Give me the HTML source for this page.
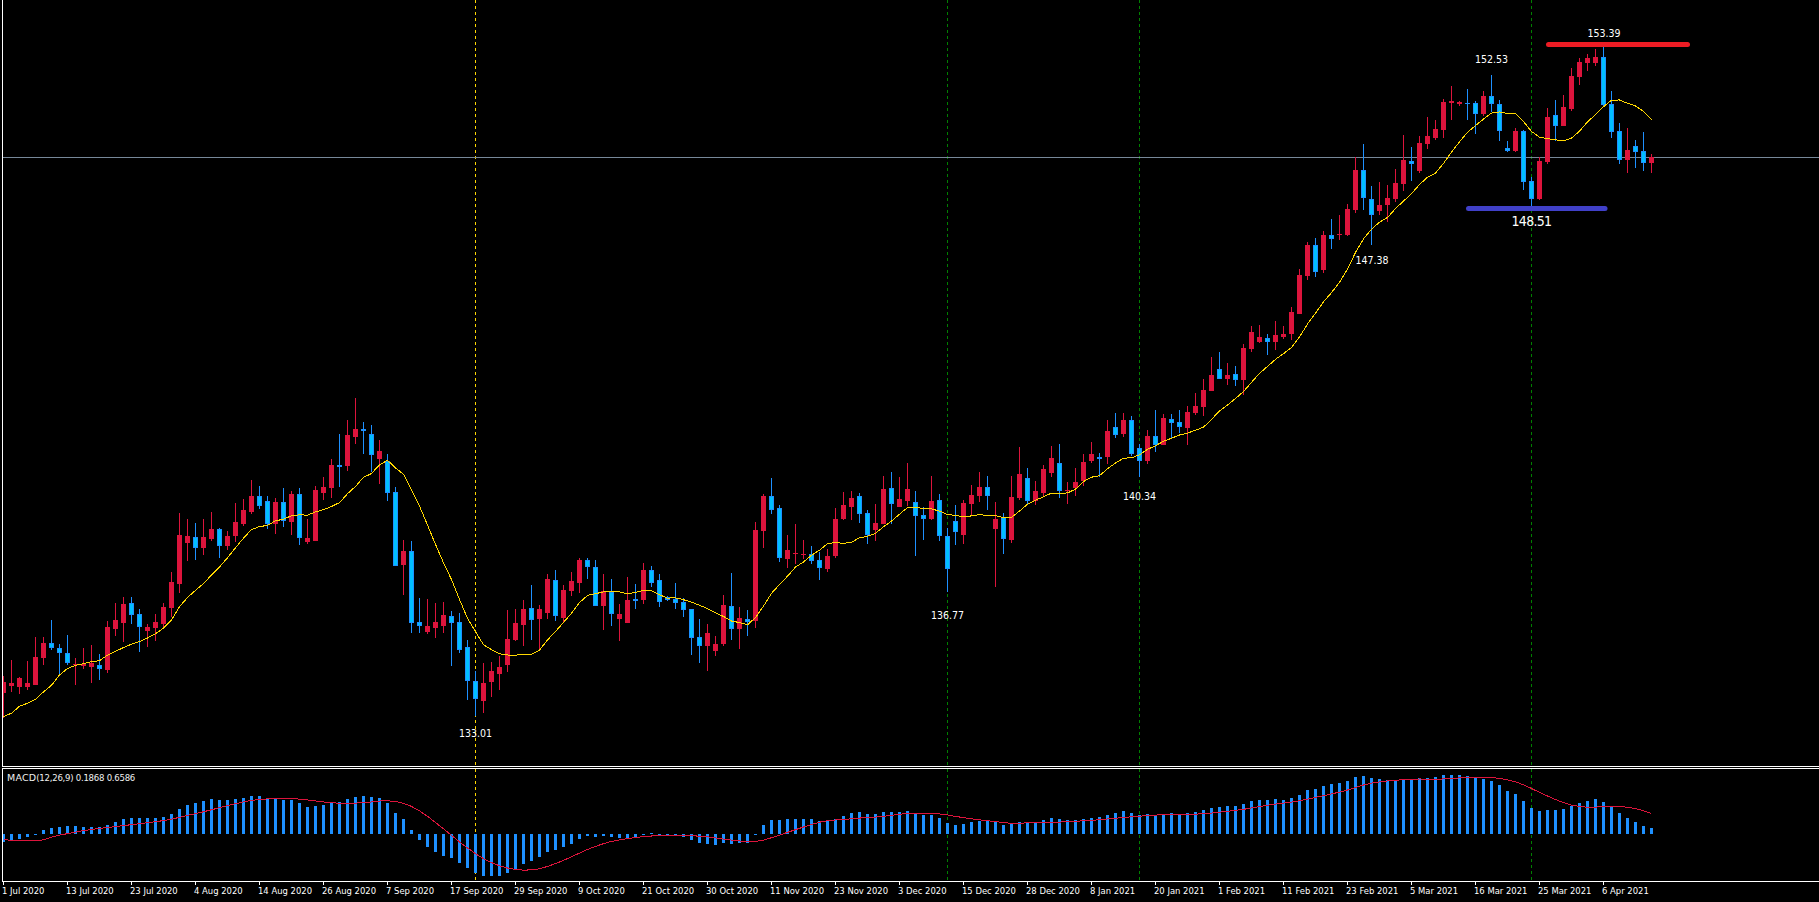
<!DOCTYPE html>
<html><head><meta charset="utf-8"><style>
html,body{margin:0;padding:0;background:#000;width:1819px;height:902px;overflow:hidden}
body{position:relative}
.dt{position:absolute;top:885px;font:9.4px "DejaVu Sans Condensed","DejaVu Sans",sans-serif;color:#fff;white-space:nowrap;line-height:12px}
.pl{position:absolute;width:60px;text-align:center;font:10.5px "DejaVu Sans Condensed","DejaVu Sans",sans-serif;color:#fff;white-space:nowrap;line-height:13px}
.pb{position:absolute;width:80px;text-align:center;font:14px "DejaVu Sans Condensed","DejaVu Sans",sans-serif;color:#fff;white-space:nowrap;line-height:16px;letter-spacing:-0.7px}
.ml{position:absolute;left:7px;top:772px;font:9.5px "DejaVu Sans Condensed","DejaVu Sans",sans-serif;color:#F0F0F0;white-space:nowrap;line-height:12px;letter-spacing:-0.25px}
.mw{font-family:"DejaVu Sans",sans-serif;letter-spacing:0.2px}
</style></head><body>
<svg width="1819" height="902" viewBox="0 0 1819 902" style="position:absolute;left:0;top:0">
<defs><clipPath id="cm"><rect x="3" y="0" width="1816" height="766"/></clipPath><clipPath id="cd"><rect x="3" y="769" width="1816" height="112"/></clipPath></defs>
<g fill="#FFD700"><rect x="475" y="0" width="1" height="3"/><rect x="475" y="6" width="1" height="3"/><rect x="475" y="12" width="1" height="3"/><rect x="475" y="18" width="1" height="3"/><rect x="475" y="24" width="1" height="3"/><rect x="475" y="30" width="1" height="3"/><rect x="475" y="36" width="1" height="3"/><rect x="475" y="42" width="1" height="3"/><rect x="475" y="48" width="1" height="3"/><rect x="475" y="54" width="1" height="3"/><rect x="475" y="60" width="1" height="3"/><rect x="475" y="66" width="1" height="3"/><rect x="475" y="72" width="1" height="3"/><rect x="475" y="78" width="1" height="3"/><rect x="475" y="84" width="1" height="3"/><rect x="475" y="90" width="1" height="3"/><rect x="475" y="96" width="1" height="3"/><rect x="475" y="102" width="1" height="3"/><rect x="475" y="108" width="1" height="3"/><rect x="475" y="114" width="1" height="3"/><rect x="475" y="120" width="1" height="3"/><rect x="475" y="126" width="1" height="3"/><rect x="475" y="132" width="1" height="3"/><rect x="475" y="138" width="1" height="3"/><rect x="475" y="144" width="1" height="3"/><rect x="475" y="150" width="1" height="3"/><rect x="475" y="156" width="1" height="3"/><rect x="475" y="162" width="1" height="3"/><rect x="475" y="168" width="1" height="3"/><rect x="475" y="174" width="1" height="3"/><rect x="475" y="180" width="1" height="3"/><rect x="475" y="186" width="1" height="3"/><rect x="475" y="192" width="1" height="3"/><rect x="475" y="198" width="1" height="3"/><rect x="475" y="204" width="1" height="3"/><rect x="475" y="210" width="1" height="3"/><rect x="475" y="216" width="1" height="3"/><rect x="475" y="222" width="1" height="3"/><rect x="475" y="228" width="1" height="3"/><rect x="475" y="234" width="1" height="3"/><rect x="475" y="240" width="1" height="3"/><rect x="475" y="246" width="1" height="3"/><rect x="475" y="252" width="1" height="3"/><rect x="475" y="258" width="1" height="3"/><rect x="475" y="264" width="1" height="3"/><rect x="475" y="270" width="1" height="3"/><rect x="475" y="276" width="1" height="3"/><rect x="475" y="282" width="1" height="3"/><rect x="475" y="288" width="1" height="3"/><rect x="475" y="294" width="1" height="3"/><rect x="475" y="300" width="1" height="3"/><rect x="475" y="306" width="1" height="3"/><rect x="475" y="312" width="1" height="3"/><rect x="475" y="318" width="1" height="3"/><rect x="475" y="324" width="1" height="3"/><rect x="475" y="330" width="1" height="3"/><rect x="475" y="336" width="1" height="3"/><rect x="475" y="342" width="1" height="3"/><rect x="475" y="348" width="1" height="3"/><rect x="475" y="354" width="1" height="3"/><rect x="475" y="360" width="1" height="3"/><rect x="475" y="366" width="1" height="3"/><rect x="475" y="372" width="1" height="3"/><rect x="475" y="378" width="1" height="3"/><rect x="475" y="384" width="1" height="3"/><rect x="475" y="390" width="1" height="3"/><rect x="475" y="396" width="1" height="3"/><rect x="475" y="402" width="1" height="3"/><rect x="475" y="408" width="1" height="3"/><rect x="475" y="414" width="1" height="3"/><rect x="475" y="420" width="1" height="3"/><rect x="475" y="426" width="1" height="3"/><rect x="475" y="432" width="1" height="3"/><rect x="475" y="438" width="1" height="3"/><rect x="475" y="444" width="1" height="3"/><rect x="475" y="450" width="1" height="3"/><rect x="475" y="456" width="1" height="3"/><rect x="475" y="462" width="1" height="3"/><rect x="475" y="468" width="1" height="3"/><rect x="475" y="474" width="1" height="3"/><rect x="475" y="480" width="1" height="3"/><rect x="475" y="486" width="1" height="3"/><rect x="475" y="492" width="1" height="3"/><rect x="475" y="498" width="1" height="3"/><rect x="475" y="504" width="1" height="3"/><rect x="475" y="510" width="1" height="3"/><rect x="475" y="516" width="1" height="3"/><rect x="475" y="522" width="1" height="3"/><rect x="475" y="528" width="1" height="3"/><rect x="475" y="534" width="1" height="3"/><rect x="475" y="540" width="1" height="3"/><rect x="475" y="546" width="1" height="3"/><rect x="475" y="552" width="1" height="3"/><rect x="475" y="558" width="1" height="3"/><rect x="475" y="564" width="1" height="3"/><rect x="475" y="570" width="1" height="3"/><rect x="475" y="576" width="1" height="3"/><rect x="475" y="582" width="1" height="3"/><rect x="475" y="588" width="1" height="3"/><rect x="475" y="594" width="1" height="3"/><rect x="475" y="600" width="1" height="3"/><rect x="475" y="606" width="1" height="3"/><rect x="475" y="612" width="1" height="3"/><rect x="475" y="618" width="1" height="3"/><rect x="475" y="624" width="1" height="3"/><rect x="475" y="630" width="1" height="3"/><rect x="475" y="636" width="1" height="3"/><rect x="475" y="642" width="1" height="3"/><rect x="475" y="648" width="1" height="3"/><rect x="475" y="654" width="1" height="3"/><rect x="475" y="660" width="1" height="3"/><rect x="475" y="666" width="1" height="3"/><rect x="475" y="672" width="1" height="3"/><rect x="475" y="678" width="1" height="3"/><rect x="475" y="684" width="1" height="3"/><rect x="475" y="690" width="1" height="3"/><rect x="475" y="696" width="1" height="3"/><rect x="475" y="702" width="1" height="3"/><rect x="475" y="708" width="1" height="3"/><rect x="475" y="714" width="1" height="3"/><rect x="475" y="720" width="1" height="3"/><rect x="475" y="726" width="1" height="3"/><rect x="475" y="732" width="1" height="3"/><rect x="475" y="738" width="1" height="3"/><rect x="475" y="744" width="1" height="3"/><rect x="475" y="750" width="1" height="3"/><rect x="475" y="756" width="1" height="3"/><rect x="475" y="762" width="1" height="3"/></g>
<g fill="#FFD700"><rect x="475" y="769" width="1" height="3"/><rect x="475" y="775" width="1" height="3"/><rect x="475" y="781" width="1" height="3"/><rect x="475" y="787" width="1" height="3"/><rect x="475" y="793" width="1" height="3"/><rect x="475" y="799" width="1" height="3"/><rect x="475" y="805" width="1" height="3"/><rect x="475" y="811" width="1" height="3"/><rect x="475" y="817" width="1" height="3"/><rect x="475" y="823" width="1" height="3"/><rect x="475" y="829" width="1" height="3"/><rect x="475" y="835" width="1" height="3"/><rect x="475" y="841" width="1" height="3"/><rect x="475" y="847" width="1" height="3"/><rect x="475" y="853" width="1" height="3"/><rect x="475" y="859" width="1" height="3"/><rect x="475" y="865" width="1" height="3"/><rect x="475" y="871" width="1" height="3"/><rect x="475" y="877" width="1" height="3"/></g>
<g fill="#008000"><rect x="947" y="0" width="1" height="3"/><rect x="947" y="6" width="1" height="3"/><rect x="947" y="12" width="1" height="3"/><rect x="947" y="18" width="1" height="3"/><rect x="947" y="24" width="1" height="3"/><rect x="947" y="30" width="1" height="3"/><rect x="947" y="36" width="1" height="3"/><rect x="947" y="42" width="1" height="3"/><rect x="947" y="48" width="1" height="3"/><rect x="947" y="54" width="1" height="3"/><rect x="947" y="60" width="1" height="3"/><rect x="947" y="66" width="1" height="3"/><rect x="947" y="72" width="1" height="3"/><rect x="947" y="78" width="1" height="3"/><rect x="947" y="84" width="1" height="3"/><rect x="947" y="90" width="1" height="3"/><rect x="947" y="96" width="1" height="3"/><rect x="947" y="102" width="1" height="3"/><rect x="947" y="108" width="1" height="3"/><rect x="947" y="114" width="1" height="3"/><rect x="947" y="120" width="1" height="3"/><rect x="947" y="126" width="1" height="3"/><rect x="947" y="132" width="1" height="3"/><rect x="947" y="138" width="1" height="3"/><rect x="947" y="144" width="1" height="3"/><rect x="947" y="150" width="1" height="3"/><rect x="947" y="156" width="1" height="3"/><rect x="947" y="162" width="1" height="3"/><rect x="947" y="168" width="1" height="3"/><rect x="947" y="174" width="1" height="3"/><rect x="947" y="180" width="1" height="3"/><rect x="947" y="186" width="1" height="3"/><rect x="947" y="192" width="1" height="3"/><rect x="947" y="198" width="1" height="3"/><rect x="947" y="204" width="1" height="3"/><rect x="947" y="210" width="1" height="3"/><rect x="947" y="216" width="1" height="3"/><rect x="947" y="222" width="1" height="3"/><rect x="947" y="228" width="1" height="3"/><rect x="947" y="234" width="1" height="3"/><rect x="947" y="240" width="1" height="3"/><rect x="947" y="246" width="1" height="3"/><rect x="947" y="252" width="1" height="3"/><rect x="947" y="258" width="1" height="3"/><rect x="947" y="264" width="1" height="3"/><rect x="947" y="270" width="1" height="3"/><rect x="947" y="276" width="1" height="3"/><rect x="947" y="282" width="1" height="3"/><rect x="947" y="288" width="1" height="3"/><rect x="947" y="294" width="1" height="3"/><rect x="947" y="300" width="1" height="3"/><rect x="947" y="306" width="1" height="3"/><rect x="947" y="312" width="1" height="3"/><rect x="947" y="318" width="1" height="3"/><rect x="947" y="324" width="1" height="3"/><rect x="947" y="330" width="1" height="3"/><rect x="947" y="336" width="1" height="3"/><rect x="947" y="342" width="1" height="3"/><rect x="947" y="348" width="1" height="3"/><rect x="947" y="354" width="1" height="3"/><rect x="947" y="360" width="1" height="3"/><rect x="947" y="366" width="1" height="3"/><rect x="947" y="372" width="1" height="3"/><rect x="947" y="378" width="1" height="3"/><rect x="947" y="384" width="1" height="3"/><rect x="947" y="390" width="1" height="3"/><rect x="947" y="396" width="1" height="3"/><rect x="947" y="402" width="1" height="3"/><rect x="947" y="408" width="1" height="3"/><rect x="947" y="414" width="1" height="3"/><rect x="947" y="420" width="1" height="3"/><rect x="947" y="426" width="1" height="3"/><rect x="947" y="432" width="1" height="3"/><rect x="947" y="438" width="1" height="3"/><rect x="947" y="444" width="1" height="3"/><rect x="947" y="450" width="1" height="3"/><rect x="947" y="456" width="1" height="3"/><rect x="947" y="462" width="1" height="3"/><rect x="947" y="468" width="1" height="3"/><rect x="947" y="474" width="1" height="3"/><rect x="947" y="480" width="1" height="3"/><rect x="947" y="486" width="1" height="3"/><rect x="947" y="492" width="1" height="3"/><rect x="947" y="498" width="1" height="3"/><rect x="947" y="504" width="1" height="3"/><rect x="947" y="510" width="1" height="3"/><rect x="947" y="516" width="1" height="3"/><rect x="947" y="522" width="1" height="3"/><rect x="947" y="528" width="1" height="3"/><rect x="947" y="534" width="1" height="3"/><rect x="947" y="540" width="1" height="3"/><rect x="947" y="546" width="1" height="3"/><rect x="947" y="552" width="1" height="3"/><rect x="947" y="558" width="1" height="3"/><rect x="947" y="564" width="1" height="3"/><rect x="947" y="570" width="1" height="3"/><rect x="947" y="576" width="1" height="3"/><rect x="947" y="582" width="1" height="3"/><rect x="947" y="588" width="1" height="3"/><rect x="947" y="594" width="1" height="3"/><rect x="947" y="600" width="1" height="3"/><rect x="947" y="606" width="1" height="3"/><rect x="947" y="612" width="1" height="3"/><rect x="947" y="618" width="1" height="3"/><rect x="947" y="624" width="1" height="3"/><rect x="947" y="630" width="1" height="3"/><rect x="947" y="636" width="1" height="3"/><rect x="947" y="642" width="1" height="3"/><rect x="947" y="648" width="1" height="3"/><rect x="947" y="654" width="1" height="3"/><rect x="947" y="660" width="1" height="3"/><rect x="947" y="666" width="1" height="3"/><rect x="947" y="672" width="1" height="3"/><rect x="947" y="678" width="1" height="3"/><rect x="947" y="684" width="1" height="3"/><rect x="947" y="690" width="1" height="3"/><rect x="947" y="696" width="1" height="3"/><rect x="947" y="702" width="1" height="3"/><rect x="947" y="708" width="1" height="3"/><rect x="947" y="714" width="1" height="3"/><rect x="947" y="720" width="1" height="3"/><rect x="947" y="726" width="1" height="3"/><rect x="947" y="732" width="1" height="3"/><rect x="947" y="738" width="1" height="3"/><rect x="947" y="744" width="1" height="3"/><rect x="947" y="750" width="1" height="3"/><rect x="947" y="756" width="1" height="3"/><rect x="947" y="762" width="1" height="3"/></g>
<g fill="#008000"><rect x="947" y="769" width="1" height="3"/><rect x="947" y="775" width="1" height="3"/><rect x="947" y="781" width="1" height="3"/><rect x="947" y="787" width="1" height="3"/><rect x="947" y="793" width="1" height="3"/><rect x="947" y="799" width="1" height="3"/><rect x="947" y="805" width="1" height="3"/><rect x="947" y="811" width="1" height="3"/><rect x="947" y="817" width="1" height="3"/><rect x="947" y="823" width="1" height="3"/><rect x="947" y="829" width="1" height="3"/><rect x="947" y="835" width="1" height="3"/><rect x="947" y="841" width="1" height="3"/><rect x="947" y="847" width="1" height="3"/><rect x="947" y="853" width="1" height="3"/><rect x="947" y="859" width="1" height="3"/><rect x="947" y="865" width="1" height="3"/><rect x="947" y="871" width="1" height="3"/><rect x="947" y="877" width="1" height="3"/></g>
<g fill="#008000"><rect x="1139" y="0" width="1" height="3"/><rect x="1139" y="6" width="1" height="3"/><rect x="1139" y="12" width="1" height="3"/><rect x="1139" y="18" width="1" height="3"/><rect x="1139" y="24" width="1" height="3"/><rect x="1139" y="30" width="1" height="3"/><rect x="1139" y="36" width="1" height="3"/><rect x="1139" y="42" width="1" height="3"/><rect x="1139" y="48" width="1" height="3"/><rect x="1139" y="54" width="1" height="3"/><rect x="1139" y="60" width="1" height="3"/><rect x="1139" y="66" width="1" height="3"/><rect x="1139" y="72" width="1" height="3"/><rect x="1139" y="78" width="1" height="3"/><rect x="1139" y="84" width="1" height="3"/><rect x="1139" y="90" width="1" height="3"/><rect x="1139" y="96" width="1" height="3"/><rect x="1139" y="102" width="1" height="3"/><rect x="1139" y="108" width="1" height="3"/><rect x="1139" y="114" width="1" height="3"/><rect x="1139" y="120" width="1" height="3"/><rect x="1139" y="126" width="1" height="3"/><rect x="1139" y="132" width="1" height="3"/><rect x="1139" y="138" width="1" height="3"/><rect x="1139" y="144" width="1" height="3"/><rect x="1139" y="150" width="1" height="3"/><rect x="1139" y="156" width="1" height="3"/><rect x="1139" y="162" width="1" height="3"/><rect x="1139" y="168" width="1" height="3"/><rect x="1139" y="174" width="1" height="3"/><rect x="1139" y="180" width="1" height="3"/><rect x="1139" y="186" width="1" height="3"/><rect x="1139" y="192" width="1" height="3"/><rect x="1139" y="198" width="1" height="3"/><rect x="1139" y="204" width="1" height="3"/><rect x="1139" y="210" width="1" height="3"/><rect x="1139" y="216" width="1" height="3"/><rect x="1139" y="222" width="1" height="3"/><rect x="1139" y="228" width="1" height="3"/><rect x="1139" y="234" width="1" height="3"/><rect x="1139" y="240" width="1" height="3"/><rect x="1139" y="246" width="1" height="3"/><rect x="1139" y="252" width="1" height="3"/><rect x="1139" y="258" width="1" height="3"/><rect x="1139" y="264" width="1" height="3"/><rect x="1139" y="270" width="1" height="3"/><rect x="1139" y="276" width="1" height="3"/><rect x="1139" y="282" width="1" height="3"/><rect x="1139" y="288" width="1" height="3"/><rect x="1139" y="294" width="1" height="3"/><rect x="1139" y="300" width="1" height="3"/><rect x="1139" y="306" width="1" height="3"/><rect x="1139" y="312" width="1" height="3"/><rect x="1139" y="318" width="1" height="3"/><rect x="1139" y="324" width="1" height="3"/><rect x="1139" y="330" width="1" height="3"/><rect x="1139" y="336" width="1" height="3"/><rect x="1139" y="342" width="1" height="3"/><rect x="1139" y="348" width="1" height="3"/><rect x="1139" y="354" width="1" height="3"/><rect x="1139" y="360" width="1" height="3"/><rect x="1139" y="366" width="1" height="3"/><rect x="1139" y="372" width="1" height="3"/><rect x="1139" y="378" width="1" height="3"/><rect x="1139" y="384" width="1" height="3"/><rect x="1139" y="390" width="1" height="3"/><rect x="1139" y="396" width="1" height="3"/><rect x="1139" y="402" width="1" height="3"/><rect x="1139" y="408" width="1" height="3"/><rect x="1139" y="414" width="1" height="3"/><rect x="1139" y="420" width="1" height="3"/><rect x="1139" y="426" width="1" height="3"/><rect x="1139" y="432" width="1" height="3"/><rect x="1139" y="438" width="1" height="3"/><rect x="1139" y="444" width="1" height="3"/><rect x="1139" y="450" width="1" height="3"/><rect x="1139" y="456" width="1" height="3"/><rect x="1139" y="462" width="1" height="3"/><rect x="1139" y="468" width="1" height="3"/><rect x="1139" y="474" width="1" height="3"/><rect x="1139" y="480" width="1" height="3"/><rect x="1139" y="486" width="1" height="3"/><rect x="1139" y="492" width="1" height="3"/><rect x="1139" y="498" width="1" height="3"/><rect x="1139" y="504" width="1" height="3"/><rect x="1139" y="510" width="1" height="3"/><rect x="1139" y="516" width="1" height="3"/><rect x="1139" y="522" width="1" height="3"/><rect x="1139" y="528" width="1" height="3"/><rect x="1139" y="534" width="1" height="3"/><rect x="1139" y="540" width="1" height="3"/><rect x="1139" y="546" width="1" height="3"/><rect x="1139" y="552" width="1" height="3"/><rect x="1139" y="558" width="1" height="3"/><rect x="1139" y="564" width="1" height="3"/><rect x="1139" y="570" width="1" height="3"/><rect x="1139" y="576" width="1" height="3"/><rect x="1139" y="582" width="1" height="3"/><rect x="1139" y="588" width="1" height="3"/><rect x="1139" y="594" width="1" height="3"/><rect x="1139" y="600" width="1" height="3"/><rect x="1139" y="606" width="1" height="3"/><rect x="1139" y="612" width="1" height="3"/><rect x="1139" y="618" width="1" height="3"/><rect x="1139" y="624" width="1" height="3"/><rect x="1139" y="630" width="1" height="3"/><rect x="1139" y="636" width="1" height="3"/><rect x="1139" y="642" width="1" height="3"/><rect x="1139" y="648" width="1" height="3"/><rect x="1139" y="654" width="1" height="3"/><rect x="1139" y="660" width="1" height="3"/><rect x="1139" y="666" width="1" height="3"/><rect x="1139" y="672" width="1" height="3"/><rect x="1139" y="678" width="1" height="3"/><rect x="1139" y="684" width="1" height="3"/><rect x="1139" y="690" width="1" height="3"/><rect x="1139" y="696" width="1" height="3"/><rect x="1139" y="702" width="1" height="3"/><rect x="1139" y="708" width="1" height="3"/><rect x="1139" y="714" width="1" height="3"/><rect x="1139" y="720" width="1" height="3"/><rect x="1139" y="726" width="1" height="3"/><rect x="1139" y="732" width="1" height="3"/><rect x="1139" y="738" width="1" height="3"/><rect x="1139" y="744" width="1" height="3"/><rect x="1139" y="750" width="1" height="3"/><rect x="1139" y="756" width="1" height="3"/><rect x="1139" y="762" width="1" height="3"/></g>
<g fill="#008000"><rect x="1139" y="769" width="1" height="3"/><rect x="1139" y="775" width="1" height="3"/><rect x="1139" y="781" width="1" height="3"/><rect x="1139" y="787" width="1" height="3"/><rect x="1139" y="793" width="1" height="3"/><rect x="1139" y="799" width="1" height="3"/><rect x="1139" y="805" width="1" height="3"/><rect x="1139" y="811" width="1" height="3"/><rect x="1139" y="817" width="1" height="3"/><rect x="1139" y="823" width="1" height="3"/><rect x="1139" y="829" width="1" height="3"/><rect x="1139" y="835" width="1" height="3"/><rect x="1139" y="841" width="1" height="3"/><rect x="1139" y="847" width="1" height="3"/><rect x="1139" y="853" width="1" height="3"/><rect x="1139" y="859" width="1" height="3"/><rect x="1139" y="865" width="1" height="3"/><rect x="1139" y="871" width="1" height="3"/><rect x="1139" y="877" width="1" height="3"/></g>
<g fill="#008000"><rect x="1531" y="0" width="1" height="3"/><rect x="1531" y="6" width="1" height="3"/><rect x="1531" y="12" width="1" height="3"/><rect x="1531" y="18" width="1" height="3"/><rect x="1531" y="24" width="1" height="3"/><rect x="1531" y="30" width="1" height="3"/><rect x="1531" y="36" width="1" height="3"/><rect x="1531" y="42" width="1" height="3"/><rect x="1531" y="48" width="1" height="3"/><rect x="1531" y="54" width="1" height="3"/><rect x="1531" y="60" width="1" height="3"/><rect x="1531" y="66" width="1" height="3"/><rect x="1531" y="72" width="1" height="3"/><rect x="1531" y="78" width="1" height="3"/><rect x="1531" y="84" width="1" height="3"/><rect x="1531" y="90" width="1" height="3"/><rect x="1531" y="96" width="1" height="3"/><rect x="1531" y="102" width="1" height="3"/><rect x="1531" y="108" width="1" height="3"/><rect x="1531" y="114" width="1" height="3"/><rect x="1531" y="120" width="1" height="3"/><rect x="1531" y="126" width="1" height="3"/><rect x="1531" y="132" width="1" height="3"/><rect x="1531" y="138" width="1" height="3"/><rect x="1531" y="144" width="1" height="3"/><rect x="1531" y="150" width="1" height="3"/><rect x="1531" y="156" width="1" height="3"/><rect x="1531" y="162" width="1" height="3"/><rect x="1531" y="168" width="1" height="3"/><rect x="1531" y="174" width="1" height="3"/><rect x="1531" y="180" width="1" height="3"/><rect x="1531" y="186" width="1" height="3"/><rect x="1531" y="192" width="1" height="3"/><rect x="1531" y="198" width="1" height="3"/><rect x="1531" y="204" width="1" height="3"/><rect x="1531" y="210" width="1" height="3"/><rect x="1531" y="216" width="1" height="3"/><rect x="1531" y="222" width="1" height="3"/><rect x="1531" y="228" width="1" height="3"/><rect x="1531" y="234" width="1" height="3"/><rect x="1531" y="240" width="1" height="3"/><rect x="1531" y="246" width="1" height="3"/><rect x="1531" y="252" width="1" height="3"/><rect x="1531" y="258" width="1" height="3"/><rect x="1531" y="264" width="1" height="3"/><rect x="1531" y="270" width="1" height="3"/><rect x="1531" y="276" width="1" height="3"/><rect x="1531" y="282" width="1" height="3"/><rect x="1531" y="288" width="1" height="3"/><rect x="1531" y="294" width="1" height="3"/><rect x="1531" y="300" width="1" height="3"/><rect x="1531" y="306" width="1" height="3"/><rect x="1531" y="312" width="1" height="3"/><rect x="1531" y="318" width="1" height="3"/><rect x="1531" y="324" width="1" height="3"/><rect x="1531" y="330" width="1" height="3"/><rect x="1531" y="336" width="1" height="3"/><rect x="1531" y="342" width="1" height="3"/><rect x="1531" y="348" width="1" height="3"/><rect x="1531" y="354" width="1" height="3"/><rect x="1531" y="360" width="1" height="3"/><rect x="1531" y="366" width="1" height="3"/><rect x="1531" y="372" width="1" height="3"/><rect x="1531" y="378" width="1" height="3"/><rect x="1531" y="384" width="1" height="3"/><rect x="1531" y="390" width="1" height="3"/><rect x="1531" y="396" width="1" height="3"/><rect x="1531" y="402" width="1" height="3"/><rect x="1531" y="408" width="1" height="3"/><rect x="1531" y="414" width="1" height="3"/><rect x="1531" y="420" width="1" height="3"/><rect x="1531" y="426" width="1" height="3"/><rect x="1531" y="432" width="1" height="3"/><rect x="1531" y="438" width="1" height="3"/><rect x="1531" y="444" width="1" height="3"/><rect x="1531" y="450" width="1" height="3"/><rect x="1531" y="456" width="1" height="3"/><rect x="1531" y="462" width="1" height="3"/><rect x="1531" y="468" width="1" height="3"/><rect x="1531" y="474" width="1" height="3"/><rect x="1531" y="480" width="1" height="3"/><rect x="1531" y="486" width="1" height="3"/><rect x="1531" y="492" width="1" height="3"/><rect x="1531" y="498" width="1" height="3"/><rect x="1531" y="504" width="1" height="3"/><rect x="1531" y="510" width="1" height="3"/><rect x="1531" y="516" width="1" height="3"/><rect x="1531" y="522" width="1" height="3"/><rect x="1531" y="528" width="1" height="3"/><rect x="1531" y="534" width="1" height="3"/><rect x="1531" y="540" width="1" height="3"/><rect x="1531" y="546" width="1" height="3"/><rect x="1531" y="552" width="1" height="3"/><rect x="1531" y="558" width="1" height="3"/><rect x="1531" y="564" width="1" height="3"/><rect x="1531" y="570" width="1" height="3"/><rect x="1531" y="576" width="1" height="3"/><rect x="1531" y="582" width="1" height="3"/><rect x="1531" y="588" width="1" height="3"/><rect x="1531" y="594" width="1" height="3"/><rect x="1531" y="600" width="1" height="3"/><rect x="1531" y="606" width="1" height="3"/><rect x="1531" y="612" width="1" height="3"/><rect x="1531" y="618" width="1" height="3"/><rect x="1531" y="624" width="1" height="3"/><rect x="1531" y="630" width="1" height="3"/><rect x="1531" y="636" width="1" height="3"/><rect x="1531" y="642" width="1" height="3"/><rect x="1531" y="648" width="1" height="3"/><rect x="1531" y="654" width="1" height="3"/><rect x="1531" y="660" width="1" height="3"/><rect x="1531" y="666" width="1" height="3"/><rect x="1531" y="672" width="1" height="3"/><rect x="1531" y="678" width="1" height="3"/><rect x="1531" y="684" width="1" height="3"/><rect x="1531" y="690" width="1" height="3"/><rect x="1531" y="696" width="1" height="3"/><rect x="1531" y="702" width="1" height="3"/><rect x="1531" y="708" width="1" height="3"/><rect x="1531" y="714" width="1" height="3"/><rect x="1531" y="720" width="1" height="3"/><rect x="1531" y="726" width="1" height="3"/><rect x="1531" y="732" width="1" height="3"/><rect x="1531" y="738" width="1" height="3"/><rect x="1531" y="744" width="1" height="3"/><rect x="1531" y="750" width="1" height="3"/><rect x="1531" y="756" width="1" height="3"/><rect x="1531" y="762" width="1" height="3"/></g>
<g fill="#008000"><rect x="1531" y="769" width="1" height="3"/><rect x="1531" y="775" width="1" height="3"/><rect x="1531" y="781" width="1" height="3"/><rect x="1531" y="787" width="1" height="3"/><rect x="1531" y="793" width="1" height="3"/><rect x="1531" y="799" width="1" height="3"/><rect x="1531" y="805" width="1" height="3"/><rect x="1531" y="811" width="1" height="3"/><rect x="1531" y="817" width="1" height="3"/><rect x="1531" y="823" width="1" height="3"/><rect x="1531" y="829" width="1" height="3"/><rect x="1531" y="835" width="1" height="3"/><rect x="1531" y="841" width="1" height="3"/><rect x="1531" y="847" width="1" height="3"/><rect x="1531" y="853" width="1" height="3"/><rect x="1531" y="859" width="1" height="3"/><rect x="1531" y="865" width="1" height="3"/><rect x="1531" y="871" width="1" height="3"/><rect x="1531" y="877" width="1" height="3"/></g>
<rect x="3" y="157" width="1816" height="1" fill="#778899"/>
<g clip-path="url(#cm)" shape-rendering="crispEdges">
<rect x="3" y="676" width="1" height="42" fill="#DC143C"/>
<rect x="1" y="682" width="5" height="11" fill="#DC143C"/>
<rect x="11" y="660" width="1" height="32" fill="#DC143C"/>
<rect x="9" y="683" width="5" height="3" fill="#DC143C"/>
<rect x="19" y="677" width="1" height="17" fill="#DC143C"/>
<rect x="17" y="678" width="5" height="9" fill="#DC143C"/>
<rect x="27" y="661" width="1" height="29" fill="#DC143C"/>
<rect x="25" y="683" width="5" height="4" fill="#DC143C"/>
<rect x="35" y="637" width="1" height="48" fill="#DC143C"/>
<rect x="33" y="657" width="5" height="28" fill="#DC143C"/>
<rect x="43" y="637" width="1" height="28" fill="#DC143C"/>
<rect x="41" y="643" width="5" height="15" fill="#DC143C"/>
<rect x="51" y="620" width="1" height="30" fill="#1E90FF"/>
<rect x="49" y="643" width="5" height="5" fill="#1E90FF"/>
<rect x="50" y="644" width="3" height="3" fill="#00BFFF"/>
<rect x="59" y="644" width="1" height="31" fill="#1E90FF"/>
<rect x="57" y="648" width="5" height="5" fill="#1E90FF"/>
<rect x="58" y="649" width="3" height="3" fill="#00BFFF"/>
<rect x="67" y="635" width="1" height="30" fill="#1E90FF"/>
<rect x="65" y="653" width="5" height="10" fill="#1E90FF"/>
<rect x="66" y="654" width="3" height="8" fill="#00BFFF"/>
<rect x="75" y="658" width="1" height="27" fill="#DC143C"/>
<rect x="73" y="664" width="5" height="1" fill="#DC143C"/>
<rect x="83" y="648" width="1" height="21" fill="#DC143C"/>
<rect x="81" y="664" width="5" height="2" fill="#DC143C"/>
<rect x="91" y="645" width="1" height="38" fill="#DC143C"/>
<rect x="89" y="663" width="5" height="4" fill="#DC143C"/>
<rect x="99" y="654" width="1" height="26" fill="#1E90FF"/>
<rect x="97" y="665" width="5" height="4" fill="#1E90FF"/>
<rect x="98" y="666" width="3" height="2" fill="#00BFFF"/>
<rect x="107" y="621" width="1" height="52" fill="#DC143C"/>
<rect x="105" y="627" width="5" height="43" fill="#DC143C"/>
<rect x="115" y="603" width="1" height="33" fill="#DC143C"/>
<rect x="113" y="620" width="5" height="9" fill="#DC143C"/>
<rect x="123" y="597" width="1" height="45" fill="#DC143C"/>
<rect x="121" y="604" width="5" height="19" fill="#DC143C"/>
<rect x="131" y="597" width="1" height="27" fill="#1E90FF"/>
<rect x="129" y="603" width="5" height="12" fill="#1E90FF"/>
<rect x="130" y="604" width="3" height="10" fill="#00BFFF"/>
<rect x="139" y="609" width="1" height="43" fill="#1E90FF"/>
<rect x="137" y="614" width="5" height="13" fill="#1E90FF"/>
<rect x="138" y="615" width="3" height="11" fill="#00BFFF"/>
<rect x="147" y="624" width="1" height="23" fill="#DC143C"/>
<rect x="145" y="627" width="5" height="4" fill="#DC143C"/>
<rect x="155" y="614" width="1" height="27" fill="#DC143C"/>
<rect x="153" y="622" width="5" height="6" fill="#DC143C"/>
<rect x="163" y="603" width="1" height="25" fill="#DC143C"/>
<rect x="161" y="607" width="5" height="17" fill="#DC143C"/>
<rect x="171" y="572" width="1" height="45" fill="#DC143C"/>
<rect x="169" y="582" width="5" height="26" fill="#DC143C"/>
<rect x="179" y="513" width="1" height="80" fill="#DC143C"/>
<rect x="177" y="535" width="5" height="49" fill="#DC143C"/>
<rect x="187" y="519" width="1" height="42" fill="#DC143C"/>
<rect x="185" y="536" width="5" height="7" fill="#DC143C"/>
<rect x="195" y="523" width="1" height="37" fill="#1E90FF"/>
<rect x="193" y="537" width="5" height="11" fill="#1E90FF"/>
<rect x="194" y="538" width="3" height="9" fill="#00BFFF"/>
<rect x="203" y="519" width="1" height="36" fill="#DC143C"/>
<rect x="201" y="537" width="5" height="11" fill="#DC143C"/>
<rect x="211" y="512" width="1" height="29" fill="#DC143C"/>
<rect x="209" y="529" width="5" height="10" fill="#DC143C"/>
<rect x="219" y="528" width="1" height="30" fill="#1E90FF"/>
<rect x="217" y="529" width="5" height="17" fill="#1E90FF"/>
<rect x="218" y="530" width="3" height="15" fill="#00BFFF"/>
<rect x="227" y="531" width="1" height="19" fill="#DC143C"/>
<rect x="225" y="536" width="5" height="10" fill="#DC143C"/>
<rect x="235" y="503" width="1" height="39" fill="#DC143C"/>
<rect x="233" y="522" width="5" height="14" fill="#DC143C"/>
<rect x="243" y="499" width="1" height="27" fill="#DC143C"/>
<rect x="241" y="510" width="5" height="14" fill="#DC143C"/>
<rect x="251" y="480" width="1" height="34" fill="#DC143C"/>
<rect x="249" y="496" width="5" height="16" fill="#DC143C"/>
<rect x="259" y="486" width="1" height="23" fill="#1E90FF"/>
<rect x="257" y="496" width="5" height="10" fill="#1E90FF"/>
<rect x="258" y="497" width="3" height="8" fill="#00BFFF"/>
<rect x="267" y="496" width="1" height="33" fill="#1E90FF"/>
<rect x="265" y="501" width="5" height="23" fill="#1E90FF"/>
<rect x="266" y="502" width="3" height="21" fill="#00BFFF"/>
<rect x="275" y="498" width="1" height="36" fill="#DC143C"/>
<rect x="273" y="502" width="5" height="22" fill="#DC143C"/>
<rect x="283" y="488" width="1" height="39" fill="#1E90FF"/>
<rect x="281" y="502" width="5" height="19" fill="#1E90FF"/>
<rect x="282" y="503" width="3" height="17" fill="#00BFFF"/>
<rect x="291" y="491" width="1" height="44" fill="#DC143C"/>
<rect x="289" y="494" width="5" height="28" fill="#DC143C"/>
<rect x="299" y="488" width="1" height="57" fill="#1E90FF"/>
<rect x="297" y="494" width="5" height="44" fill="#1E90FF"/>
<rect x="298" y="495" width="3" height="42" fill="#00BFFF"/>
<rect x="307" y="519" width="1" height="25" fill="#DC143C"/>
<rect x="305" y="538" width="5" height="4" fill="#DC143C"/>
<rect x="315" y="486" width="1" height="55" fill="#DC143C"/>
<rect x="313" y="490" width="5" height="51" fill="#DC143C"/>
<rect x="323" y="477" width="1" height="23" fill="#DC143C"/>
<rect x="321" y="487" width="5" height="6" fill="#DC143C"/>
<rect x="331" y="459" width="1" height="39" fill="#DC143C"/>
<rect x="329" y="465" width="5" height="23" fill="#DC143C"/>
<rect x="339" y="434" width="1" height="53" fill="#1E90FF"/>
<rect x="337" y="465" width="5" height="2" fill="#1E90FF"/>
<rect x="347" y="420" width="1" height="51" fill="#DC143C"/>
<rect x="345" y="435" width="5" height="31" fill="#DC143C"/>
<rect x="355" y="398" width="1" height="46" fill="#DC143C"/>
<rect x="353" y="429" width="5" height="8" fill="#DC143C"/>
<rect x="363" y="422" width="1" height="32" fill="#1E90FF"/>
<rect x="361" y="429" width="5" height="2" fill="#1E90FF"/>
<rect x="371" y="425" width="1" height="47" fill="#1E90FF"/>
<rect x="369" y="434" width="5" height="21" fill="#1E90FF"/>
<rect x="370" y="435" width="3" height="19" fill="#00BFFF"/>
<rect x="379" y="440" width="1" height="44" fill="#DC143C"/>
<rect x="377" y="451" width="5" height="8" fill="#DC143C"/>
<rect x="387" y="454" width="1" height="47" fill="#1E90FF"/>
<rect x="385" y="461" width="5" height="32" fill="#1E90FF"/>
<rect x="386" y="462" width="3" height="30" fill="#00BFFF"/>
<rect x="395" y="487" width="1" height="79" fill="#1E90FF"/>
<rect x="393" y="492" width="5" height="74" fill="#1E90FF"/>
<rect x="394" y="493" width="3" height="72" fill="#00BFFF"/>
<rect x="403" y="540" width="1" height="55" fill="#DC143C"/>
<rect x="401" y="551" width="5" height="14" fill="#DC143C"/>
<rect x="411" y="541" width="1" height="92" fill="#1E90FF"/>
<rect x="409" y="551" width="5" height="72" fill="#1E90FF"/>
<rect x="410" y="552" width="3" height="70" fill="#00BFFF"/>
<rect x="419" y="598" width="1" height="35" fill="#1E90FF"/>
<rect x="417" y="622" width="5" height="4" fill="#1E90FF"/>
<rect x="418" y="623" width="3" height="2" fill="#00BFFF"/>
<rect x="427" y="599" width="1" height="35" fill="#DC143C"/>
<rect x="425" y="626" width="5" height="6" fill="#DC143C"/>
<rect x="435" y="603" width="1" height="35" fill="#DC143C"/>
<rect x="433" y="622" width="5" height="6" fill="#DC143C"/>
<rect x="443" y="602" width="1" height="31" fill="#DC143C"/>
<rect x="441" y="615" width="5" height="11" fill="#DC143C"/>
<rect x="451" y="611" width="1" height="55" fill="#1E90FF"/>
<rect x="449" y="616" width="5" height="7" fill="#1E90FF"/>
<rect x="450" y="617" width="3" height="5" fill="#00BFFF"/>
<rect x="459" y="613" width="1" height="40" fill="#1E90FF"/>
<rect x="457" y="622" width="5" height="28" fill="#1E90FF"/>
<rect x="458" y="623" width="3" height="26" fill="#00BFFF"/>
<rect x="467" y="640" width="1" height="60" fill="#1E90FF"/>
<rect x="465" y="647" width="5" height="34" fill="#1E90FF"/>
<rect x="466" y="648" width="3" height="32" fill="#00BFFF"/>
<rect x="475" y="671" width="1" height="45" fill="#1E90FF"/>
<rect x="473" y="681" width="5" height="18" fill="#1E90FF"/>
<rect x="474" y="682" width="3" height="16" fill="#00BFFF"/>
<rect x="483" y="663" width="1" height="50" fill="#DC143C"/>
<rect x="481" y="683" width="5" height="18" fill="#DC143C"/>
<rect x="491" y="662" width="1" height="35" fill="#DC143C"/>
<rect x="489" y="671" width="5" height="11" fill="#DC143C"/>
<rect x="499" y="656" width="1" height="34" fill="#DC143C"/>
<rect x="497" y="667" width="5" height="7" fill="#DC143C"/>
<rect x="507" y="610" width="1" height="62" fill="#DC143C"/>
<rect x="505" y="639" width="5" height="26" fill="#DC143C"/>
<rect x="515" y="609" width="1" height="32" fill="#DC143C"/>
<rect x="513" y="623" width="5" height="17" fill="#DC143C"/>
<rect x="523" y="600" width="1" height="46" fill="#DC143C"/>
<rect x="521" y="609" width="5" height="16" fill="#DC143C"/>
<rect x="531" y="585" width="1" height="55" fill="#1E90FF"/>
<rect x="529" y="608" width="5" height="12" fill="#1E90FF"/>
<rect x="530" y="609" width="3" height="10" fill="#00BFFF"/>
<rect x="539" y="605" width="1" height="45" fill="#DC143C"/>
<rect x="537" y="609" width="5" height="10" fill="#DC143C"/>
<rect x="547" y="574" width="1" height="45" fill="#DC143C"/>
<rect x="545" y="579" width="5" height="34" fill="#DC143C"/>
<rect x="555" y="570" width="1" height="51" fill="#1E90FF"/>
<rect x="553" y="580" width="5" height="36" fill="#1E90FF"/>
<rect x="554" y="581" width="3" height="34" fill="#00BFFF"/>
<rect x="563" y="585" width="1" height="37" fill="#DC143C"/>
<rect x="561" y="590" width="5" height="28" fill="#DC143C"/>
<rect x="571" y="572" width="1" height="24" fill="#DC143C"/>
<rect x="569" y="581" width="5" height="10" fill="#DC143C"/>
<rect x="579" y="558" width="1" height="35" fill="#DC143C"/>
<rect x="577" y="560" width="5" height="23" fill="#DC143C"/>
<rect x="587" y="558" width="1" height="21" fill="#1E90FF"/>
<rect x="585" y="560" width="5" height="7" fill="#1E90FF"/>
<rect x="586" y="561" width="3" height="5" fill="#00BFFF"/>
<rect x="595" y="560" width="1" height="46" fill="#1E90FF"/>
<rect x="593" y="567" width="5" height="39" fill="#1E90FF"/>
<rect x="594" y="568" width="3" height="37" fill="#00BFFF"/>
<rect x="603" y="574" width="1" height="56" fill="#DC143C"/>
<rect x="601" y="591" width="5" height="15" fill="#DC143C"/>
<rect x="611" y="579" width="1" height="47" fill="#1E90FF"/>
<rect x="609" y="592" width="5" height="22" fill="#1E90FF"/>
<rect x="610" y="593" width="3" height="20" fill="#00BFFF"/>
<rect x="619" y="604" width="1" height="37" fill="#DC143C"/>
<rect x="617" y="614" width="5" height="5" fill="#DC143C"/>
<rect x="627" y="577" width="1" height="46" fill="#DC143C"/>
<rect x="625" y="600" width="5" height="23" fill="#DC143C"/>
<rect x="635" y="584" width="1" height="25" fill="#1E90FF"/>
<rect x="633" y="599" width="5" height="2" fill="#1E90FF"/>
<rect x="643" y="563" width="1" height="41" fill="#DC143C"/>
<rect x="641" y="570" width="5" height="30" fill="#DC143C"/>
<rect x="651" y="566" width="1" height="21" fill="#1E90FF"/>
<rect x="649" y="570" width="5" height="13" fill="#1E90FF"/>
<rect x="650" y="571" width="3" height="11" fill="#00BFFF"/>
<rect x="659" y="574" width="1" height="33" fill="#1E90FF"/>
<rect x="657" y="580" width="5" height="22" fill="#1E90FF"/>
<rect x="658" y="581" width="3" height="20" fill="#00BFFF"/>
<rect x="667" y="596" width="1" height="5" fill="#1E90FF"/>
<rect x="665" y="597" width="5" height="3" fill="#1E90FF"/>
<rect x="666" y="598" width="3" height="1" fill="#00BFFF"/>
<rect x="675" y="583" width="1" height="26" fill="#1E90FF"/>
<rect x="673" y="599" width="5" height="4" fill="#1E90FF"/>
<rect x="674" y="600" width="3" height="2" fill="#00BFFF"/>
<rect x="683" y="598" width="1" height="19" fill="#1E90FF"/>
<rect x="681" y="602" width="5" height="8" fill="#1E90FF"/>
<rect x="682" y="603" width="3" height="6" fill="#00BFFF"/>
<rect x="691" y="609" width="1" height="46" fill="#1E90FF"/>
<rect x="689" y="609" width="5" height="29" fill="#1E90FF"/>
<rect x="690" y="610" width="3" height="27" fill="#00BFFF"/>
<rect x="699" y="619" width="1" height="44" fill="#1E90FF"/>
<rect x="697" y="637" width="5" height="9" fill="#1E90FF"/>
<rect x="698" y="638" width="3" height="7" fill="#00BFFF"/>
<rect x="707" y="624" width="1" height="47" fill="#DC143C"/>
<rect x="705" y="633" width="5" height="13" fill="#DC143C"/>
<rect x="715" y="636" width="1" height="20" fill="#DC143C"/>
<rect x="713" y="644" width="5" height="7" fill="#DC143C"/>
<rect x="723" y="595" width="1" height="51" fill="#DC143C"/>
<rect x="721" y="605" width="5" height="39" fill="#DC143C"/>
<rect x="731" y="573" width="1" height="67" fill="#1E90FF"/>
<rect x="729" y="606" width="5" height="23" fill="#1E90FF"/>
<rect x="730" y="607" width="3" height="21" fill="#00BFFF"/>
<rect x="739" y="607" width="1" height="42" fill="#DC143C"/>
<rect x="737" y="618" width="5" height="11" fill="#DC143C"/>
<rect x="747" y="610" width="1" height="26" fill="#1E90FF"/>
<rect x="745" y="619" width="5" height="3" fill="#1E90FF"/>
<rect x="746" y="620" width="3" height="1" fill="#00BFFF"/>
<rect x="755" y="522" width="1" height="106" fill="#DC143C"/>
<rect x="753" y="530" width="5" height="91" fill="#DC143C"/>
<rect x="763" y="494" width="1" height="54" fill="#DC143C"/>
<rect x="761" y="496" width="5" height="35" fill="#DC143C"/>
<rect x="771" y="478" width="1" height="36" fill="#1E90FF"/>
<rect x="769" y="496" width="5" height="14" fill="#1E90FF"/>
<rect x="770" y="497" width="3" height="12" fill="#00BFFF"/>
<rect x="779" y="505" width="1" height="57" fill="#1E90FF"/>
<rect x="777" y="508" width="5" height="50" fill="#1E90FF"/>
<rect x="778" y="509" width="3" height="48" fill="#00BFFF"/>
<rect x="787" y="535" width="1" height="33" fill="#DC143C"/>
<rect x="785" y="550" width="5" height="9" fill="#DC143C"/>
<rect x="795" y="524" width="1" height="40" fill="#DC143C"/>
<rect x="793" y="553" width="5" height="1" fill="#DC143C"/>
<rect x="803" y="540" width="1" height="19" fill="#DC143C"/>
<rect x="801" y="554" width="5" height="1" fill="#DC143C"/>
<rect x="811" y="546" width="1" height="18" fill="#1E90FF"/>
<rect x="809" y="554" width="5" height="7" fill="#1E90FF"/>
<rect x="810" y="555" width="3" height="5" fill="#00BFFF"/>
<rect x="819" y="552" width="1" height="28" fill="#1E90FF"/>
<rect x="817" y="560" width="5" height="8" fill="#1E90FF"/>
<rect x="818" y="561" width="3" height="6" fill="#00BFFF"/>
<rect x="827" y="549" width="1" height="23" fill="#DC143C"/>
<rect x="825" y="556" width="5" height="13" fill="#DC143C"/>
<rect x="835" y="508" width="1" height="50" fill="#DC143C"/>
<rect x="833" y="519" width="5" height="37" fill="#DC143C"/>
<rect x="843" y="492" width="1" height="28" fill="#DC143C"/>
<rect x="841" y="505" width="5" height="14" fill="#DC143C"/>
<rect x="851" y="491" width="1" height="29" fill="#DC143C"/>
<rect x="849" y="498" width="5" height="9" fill="#DC143C"/>
<rect x="859" y="493" width="1" height="30" fill="#1E90FF"/>
<rect x="857" y="496" width="5" height="18" fill="#1E90FF"/>
<rect x="858" y="497" width="3" height="16" fill="#00BFFF"/>
<rect x="867" y="510" width="1" height="34" fill="#1E90FF"/>
<rect x="865" y="513" width="5" height="22" fill="#1E90FF"/>
<rect x="866" y="514" width="3" height="20" fill="#00BFFF"/>
<rect x="875" y="504" width="1" height="37" fill="#DC143C"/>
<rect x="873" y="523" width="5" height="7" fill="#DC143C"/>
<rect x="883" y="476" width="1" height="48" fill="#DC143C"/>
<rect x="881" y="489" width="5" height="35" fill="#DC143C"/>
<rect x="891" y="472" width="1" height="52" fill="#1E90FF"/>
<rect x="889" y="488" width="5" height="16" fill="#1E90FF"/>
<rect x="890" y="489" width="3" height="14" fill="#00BFFF"/>
<rect x="899" y="477" width="1" height="30" fill="#DC143C"/>
<rect x="897" y="499" width="5" height="8" fill="#DC143C"/>
<rect x="907" y="463" width="1" height="43" fill="#DC143C"/>
<rect x="905" y="489" width="5" height="12" fill="#DC143C"/>
<rect x="915" y="491" width="1" height="65" fill="#1E90FF"/>
<rect x="913" y="502" width="5" height="14" fill="#1E90FF"/>
<rect x="914" y="503" width="3" height="12" fill="#00BFFF"/>
<rect x="923" y="507" width="1" height="33" fill="#1E90FF"/>
<rect x="921" y="515" width="5" height="4" fill="#1E90FF"/>
<rect x="922" y="516" width="3" height="2" fill="#00BFFF"/>
<rect x="931" y="476" width="1" height="44" fill="#DC143C"/>
<rect x="929" y="501" width="5" height="18" fill="#DC143C"/>
<rect x="939" y="494" width="1" height="47" fill="#1E90FF"/>
<rect x="937" y="500" width="5" height="36" fill="#1E90FF"/>
<rect x="938" y="501" width="3" height="34" fill="#00BFFF"/>
<rect x="947" y="528" width="1" height="64" fill="#1E90FF"/>
<rect x="945" y="536" width="5" height="33" fill="#1E90FF"/>
<rect x="946" y="537" width="3" height="31" fill="#00BFFF"/>
<rect x="955" y="505" width="1" height="40" fill="#1E90FF"/>
<rect x="953" y="521" width="5" height="11" fill="#1E90FF"/>
<rect x="954" y="522" width="3" height="9" fill="#00BFFF"/>
<rect x="963" y="500" width="1" height="44" fill="#DC143C"/>
<rect x="961" y="503" width="5" height="32" fill="#DC143C"/>
<rect x="971" y="485" width="1" height="30" fill="#DC143C"/>
<rect x="969" y="495" width="5" height="9" fill="#DC143C"/>
<rect x="979" y="472" width="1" height="30" fill="#DC143C"/>
<rect x="977" y="487" width="5" height="9" fill="#DC143C"/>
<rect x="987" y="476" width="1" height="34" fill="#1E90FF"/>
<rect x="985" y="487" width="5" height="9" fill="#1E90FF"/>
<rect x="986" y="488" width="3" height="7" fill="#00BFFF"/>
<rect x="995" y="502" width="1" height="85" fill="#DC143C"/>
<rect x="993" y="519" width="5" height="10" fill="#DC143C"/>
<rect x="1003" y="513" width="1" height="41" fill="#1E90FF"/>
<rect x="1001" y="517" width="5" height="22" fill="#1E90FF"/>
<rect x="1002" y="518" width="3" height="20" fill="#00BFFF"/>
<rect x="1011" y="476" width="1" height="67" fill="#DC143C"/>
<rect x="1009" y="497" width="5" height="43" fill="#DC143C"/>
<rect x="1019" y="447" width="1" height="53" fill="#DC143C"/>
<rect x="1017" y="474" width="5" height="24" fill="#DC143C"/>
<rect x="1027" y="468" width="1" height="36" fill="#1E90FF"/>
<rect x="1025" y="478" width="5" height="23" fill="#1E90FF"/>
<rect x="1026" y="479" width="3" height="21" fill="#00BFFF"/>
<rect x="1035" y="481" width="1" height="24" fill="#DC143C"/>
<rect x="1033" y="491" width="5" height="10" fill="#DC143C"/>
<rect x="1043" y="465" width="1" height="31" fill="#DC143C"/>
<rect x="1041" y="469" width="5" height="24" fill="#DC143C"/>
<rect x="1051" y="446" width="1" height="31" fill="#DC143C"/>
<rect x="1049" y="458" width="5" height="15" fill="#DC143C"/>
<rect x="1059" y="444" width="1" height="54" fill="#1E90FF"/>
<rect x="1057" y="463" width="5" height="28" fill="#1E90FF"/>
<rect x="1058" y="464" width="3" height="26" fill="#00BFFF"/>
<rect x="1067" y="482" width="1" height="22" fill="#DC143C"/>
<rect x="1065" y="490" width="5" height="1" fill="#DC143C"/>
<rect x="1075" y="468" width="1" height="28" fill="#DC143C"/>
<rect x="1073" y="482" width="5" height="6" fill="#DC143C"/>
<rect x="1083" y="454" width="1" height="32" fill="#DC143C"/>
<rect x="1081" y="462" width="5" height="19" fill="#DC143C"/>
<rect x="1091" y="442" width="1" height="21" fill="#DC143C"/>
<rect x="1089" y="454" width="5" height="7" fill="#DC143C"/>
<rect x="1099" y="453" width="1" height="24" fill="#1E90FF"/>
<rect x="1097" y="457" width="5" height="2" fill="#1E90FF"/>
<rect x="1107" y="420" width="1" height="44" fill="#DC143C"/>
<rect x="1105" y="431" width="5" height="26" fill="#DC143C"/>
<rect x="1115" y="413" width="1" height="25" fill="#1E90FF"/>
<rect x="1113" y="427" width="5" height="8" fill="#1E90FF"/>
<rect x="1114" y="428" width="3" height="6" fill="#00BFFF"/>
<rect x="1123" y="413" width="1" height="24" fill="#DC143C"/>
<rect x="1121" y="420" width="5" height="14" fill="#DC143C"/>
<rect x="1131" y="416" width="1" height="40" fill="#1E90FF"/>
<rect x="1129" y="420" width="5" height="34" fill="#1E90FF"/>
<rect x="1130" y="421" width="3" height="32" fill="#00BFFF"/>
<rect x="1139" y="444" width="1" height="33" fill="#1E90FF"/>
<rect x="1137" y="448" width="5" height="13" fill="#1E90FF"/>
<rect x="1138" y="449" width="3" height="11" fill="#00BFFF"/>
<rect x="1147" y="430" width="1" height="34" fill="#DC143C"/>
<rect x="1145" y="436" width="5" height="25" fill="#DC143C"/>
<rect x="1155" y="410" width="1" height="42" fill="#1E90FF"/>
<rect x="1153" y="436" width="5" height="9" fill="#1E90FF"/>
<rect x="1154" y="437" width="3" height="7" fill="#00BFFF"/>
<rect x="1163" y="414" width="1" height="31" fill="#DC143C"/>
<rect x="1161" y="418" width="5" height="27" fill="#DC143C"/>
<rect x="1171" y="414" width="1" height="24" fill="#1E90FF"/>
<rect x="1169" y="419" width="5" height="4" fill="#1E90FF"/>
<rect x="1170" y="420" width="3" height="2" fill="#00BFFF"/>
<rect x="1179" y="410" width="1" height="23" fill="#1E90FF"/>
<rect x="1177" y="422" width="5" height="5" fill="#1E90FF"/>
<rect x="1178" y="423" width="3" height="3" fill="#00BFFF"/>
<rect x="1187" y="406" width="1" height="39" fill="#DC143C"/>
<rect x="1185" y="412" width="5" height="16" fill="#DC143C"/>
<rect x="1195" y="393" width="1" height="22" fill="#DC143C"/>
<rect x="1193" y="406" width="5" height="7" fill="#DC143C"/>
<rect x="1203" y="379" width="1" height="37" fill="#DC143C"/>
<rect x="1201" y="390" width="5" height="17" fill="#DC143C"/>
<rect x="1211" y="357" width="1" height="34" fill="#DC143C"/>
<rect x="1209" y="375" width="5" height="16" fill="#DC143C"/>
<rect x="1219" y="352" width="1" height="27" fill="#1E90FF"/>
<rect x="1217" y="369" width="5" height="10" fill="#1E90FF"/>
<rect x="1218" y="370" width="3" height="8" fill="#00BFFF"/>
<rect x="1227" y="363" width="1" height="22" fill="#DC143C"/>
<rect x="1225" y="375" width="5" height="4" fill="#DC143C"/>
<rect x="1235" y="366" width="1" height="20" fill="#1E90FF"/>
<rect x="1233" y="374" width="5" height="6" fill="#1E90FF"/>
<rect x="1234" y="375" width="3" height="4" fill="#00BFFF"/>
<rect x="1243" y="344" width="1" height="51" fill="#DC143C"/>
<rect x="1241" y="348" width="5" height="32" fill="#DC143C"/>
<rect x="1251" y="326" width="1" height="26" fill="#DC143C"/>
<rect x="1249" y="332" width="5" height="17" fill="#DC143C"/>
<rect x="1259" y="325" width="1" height="18" fill="#DC143C"/>
<rect x="1257" y="337" width="5" height="5" fill="#DC143C"/>
<rect x="1267" y="334" width="1" height="21" fill="#1E90FF"/>
<rect x="1265" y="338" width="5" height="4" fill="#1E90FF"/>
<rect x="1266" y="339" width="3" height="2" fill="#00BFFF"/>
<rect x="1275" y="321" width="1" height="29" fill="#DC143C"/>
<rect x="1273" y="335" width="5" height="7" fill="#DC143C"/>
<rect x="1283" y="326" width="1" height="13" fill="#DC143C"/>
<rect x="1281" y="334" width="5" height="3" fill="#DC143C"/>
<rect x="1291" y="307" width="1" height="33" fill="#DC143C"/>
<rect x="1289" y="312" width="5" height="22" fill="#DC143C"/>
<rect x="1299" y="269" width="1" height="45" fill="#DC143C"/>
<rect x="1297" y="275" width="5" height="39" fill="#DC143C"/>
<rect x="1307" y="242" width="1" height="38" fill="#DC143C"/>
<rect x="1305" y="245" width="5" height="31" fill="#DC143C"/>
<rect x="1315" y="238" width="1" height="39" fill="#1E90FF"/>
<rect x="1313" y="245" width="5" height="27" fill="#1E90FF"/>
<rect x="1314" y="246" width="3" height="25" fill="#00BFFF"/>
<rect x="1323" y="231" width="1" height="42" fill="#DC143C"/>
<rect x="1321" y="235" width="5" height="35" fill="#DC143C"/>
<rect x="1331" y="219" width="1" height="30" fill="#1E90FF"/>
<rect x="1329" y="235" width="5" height="4" fill="#1E90FF"/>
<rect x="1330" y="236" width="3" height="2" fill="#00BFFF"/>
<rect x="1339" y="215" width="1" height="25" fill="#DC143C"/>
<rect x="1337" y="234" width="5" height="1" fill="#DC143C"/>
<rect x="1347" y="204" width="1" height="32" fill="#DC143C"/>
<rect x="1345" y="209" width="5" height="26" fill="#DC143C"/>
<rect x="1355" y="157" width="1" height="56" fill="#DC143C"/>
<rect x="1353" y="170" width="5" height="40" fill="#DC143C"/>
<rect x="1363" y="144" width="1" height="66" fill="#1E90FF"/>
<rect x="1361" y="170" width="5" height="28" fill="#1E90FF"/>
<rect x="1362" y="171" width="3" height="26" fill="#00BFFF"/>
<rect x="1371" y="186" width="1" height="59" fill="#1E90FF"/>
<rect x="1369" y="199" width="5" height="16" fill="#1E90FF"/>
<rect x="1370" y="200" width="3" height="14" fill="#00BFFF"/>
<rect x="1379" y="182" width="1" height="33" fill="#DC143C"/>
<rect x="1377" y="205" width="5" height="6" fill="#DC143C"/>
<rect x="1387" y="185" width="1" height="37" fill="#DC143C"/>
<rect x="1385" y="198" width="5" height="7" fill="#DC143C"/>
<rect x="1395" y="169" width="1" height="33" fill="#DC143C"/>
<rect x="1393" y="183" width="5" height="16" fill="#DC143C"/>
<rect x="1403" y="135" width="1" height="56" fill="#DC143C"/>
<rect x="1401" y="160" width="5" height="24" fill="#DC143C"/>
<rect x="1411" y="147" width="1" height="34" fill="#1E90FF"/>
<rect x="1409" y="161" width="5" height="3" fill="#1E90FF"/>
<rect x="1410" y="162" width="3" height="1" fill="#00BFFF"/>
<rect x="1419" y="136" width="1" height="37" fill="#DC143C"/>
<rect x="1417" y="143" width="5" height="28" fill="#DC143C"/>
<rect x="1427" y="117" width="1" height="32" fill="#DC143C"/>
<rect x="1425" y="136" width="5" height="8" fill="#DC143C"/>
<rect x="1435" y="120" width="1" height="20" fill="#DC143C"/>
<rect x="1433" y="129" width="5" height="9" fill="#DC143C"/>
<rect x="1443" y="99" width="1" height="39" fill="#DC143C"/>
<rect x="1441" y="102" width="5" height="28" fill="#DC143C"/>
<rect x="1451" y="86" width="1" height="34" fill="#DC143C"/>
<rect x="1449" y="101" width="5" height="2" fill="#DC143C"/>
<rect x="1459" y="101" width="1" height="5" fill="#DC143C"/>
<rect x="1457" y="102" width="5" height="2" fill="#DC143C"/>
<rect x="1467" y="89" width="1" height="31" fill="#1E90FF"/>
<rect x="1465" y="103" width="5" height="1" fill="#1E90FF"/>
<rect x="1475" y="101" width="1" height="33" fill="#1E90FF"/>
<rect x="1473" y="103" width="5" height="11" fill="#1E90FF"/>
<rect x="1474" y="104" width="3" height="9" fill="#00BFFF"/>
<rect x="1483" y="91" width="1" height="25" fill="#DC143C"/>
<rect x="1481" y="96" width="5" height="18" fill="#DC143C"/>
<rect x="1491" y="75" width="1" height="37" fill="#1E90FF"/>
<rect x="1489" y="96" width="5" height="8" fill="#1E90FF"/>
<rect x="1490" y="97" width="3" height="6" fill="#00BFFF"/>
<rect x="1499" y="100" width="1" height="41" fill="#1E90FF"/>
<rect x="1497" y="104" width="5" height="27" fill="#1E90FF"/>
<rect x="1498" y="105" width="3" height="25" fill="#00BFFF"/>
<rect x="1507" y="141" width="1" height="11" fill="#1E90FF"/>
<rect x="1505" y="148" width="5" height="3" fill="#1E90FF"/>
<rect x="1506" y="149" width="3" height="1" fill="#00BFFF"/>
<rect x="1515" y="128" width="1" height="24" fill="#DC143C"/>
<rect x="1513" y="131" width="5" height="20" fill="#DC143C"/>
<rect x="1523" y="130" width="1" height="60" fill="#1E90FF"/>
<rect x="1521" y="131" width="5" height="51" fill="#1E90FF"/>
<rect x="1522" y="132" width="3" height="49" fill="#00BFFF"/>
<rect x="1531" y="177" width="1" height="29" fill="#1E90FF"/>
<rect x="1529" y="181" width="5" height="18" fill="#1E90FF"/>
<rect x="1530" y="182" width="3" height="16" fill="#00BFFF"/>
<rect x="1539" y="157" width="1" height="43" fill="#DC143C"/>
<rect x="1537" y="161" width="5" height="38" fill="#DC143C"/>
<rect x="1547" y="108" width="1" height="56" fill="#DC143C"/>
<rect x="1545" y="117" width="5" height="45" fill="#DC143C"/>
<rect x="1555" y="100" width="1" height="41" fill="#1E90FF"/>
<rect x="1553" y="115" width="5" height="11" fill="#1E90FF"/>
<rect x="1554" y="116" width="3" height="9" fill="#00BFFF"/>
<rect x="1563" y="95" width="1" height="31" fill="#DC143C"/>
<rect x="1561" y="107" width="5" height="19" fill="#DC143C"/>
<rect x="1571" y="68" width="1" height="43" fill="#DC143C"/>
<rect x="1569" y="76" width="5" height="33" fill="#DC143C"/>
<rect x="1579" y="58" width="1" height="27" fill="#DC143C"/>
<rect x="1577" y="62" width="5" height="15" fill="#DC143C"/>
<rect x="1587" y="54" width="1" height="17" fill="#DC143C"/>
<rect x="1585" y="58" width="5" height="5" fill="#DC143C"/>
<rect x="1595" y="49" width="1" height="17" fill="#DC143C"/>
<rect x="1593" y="57" width="5" height="6" fill="#DC143C"/>
<rect x="1603" y="47" width="1" height="59" fill="#1E90FF"/>
<rect x="1601" y="57" width="5" height="48" fill="#1E90FF"/>
<rect x="1602" y="58" width="3" height="46" fill="#00BFFF"/>
<rect x="1611" y="91" width="1" height="47" fill="#1E90FF"/>
<rect x="1609" y="104" width="5" height="28" fill="#1E90FF"/>
<rect x="1610" y="105" width="3" height="26" fill="#00BFFF"/>
<rect x="1619" y="123" width="1" height="41" fill="#1E90FF"/>
<rect x="1617" y="131" width="5" height="29" fill="#1E90FF"/>
<rect x="1618" y="132" width="3" height="27" fill="#00BFFF"/>
<rect x="1627" y="128" width="1" height="45" fill="#DC143C"/>
<rect x="1625" y="150" width="5" height="10" fill="#DC143C"/>
<rect x="1635" y="140" width="1" height="28" fill="#1E90FF"/>
<rect x="1633" y="146" width="5" height="6" fill="#1E90FF"/>
<rect x="1634" y="147" width="3" height="4" fill="#00BFFF"/>
<rect x="1643" y="132" width="1" height="39" fill="#1E90FF"/>
<rect x="1641" y="151" width="5" height="12" fill="#1E90FF"/>
<rect x="1642" y="152" width="3" height="10" fill="#00BFFF"/>
<rect x="1651" y="154" width="1" height="19" fill="#DC143C"/>
<rect x="1649" y="157" width="5" height="6" fill="#DC143C"/>
</g>
<polyline clip-path="url(#cm)" points="3.5,716.50 11.5,713.20 19.5,706.30 27.5,703.20 35.5,699.20 43.5,691.90 51.5,685.30 59.5,675.00 67.5,668.50 75.5,665.40 83.5,663.60 91.5,661.60 99.5,660.70 107.5,655.10 115.5,651.40 123.5,647.50 131.5,644.20 139.5,641.60 147.5,638.00 155.5,633.80 163.5,628.10 171.5,620.00 179.5,606.60 187.5,597.50 195.5,590.30 203.5,583.60 211.5,575.00 219.5,566.90 227.5,557.80 235.5,547.80 243.5,538.10 251.5,529.50 259.5,526.60 267.5,525.40 275.5,520.80 283.5,519.20 291.5,515.70 299.5,514.90 307.5,515.10 315.5,511.90 323.5,509.60 331.5,506.50 339.5,502.60 347.5,493.70 355.5,486.40 363.5,477.40 371.5,473.50 379.5,464.80 387.5,460.30 395.5,467.90 403.5,474.30 411.5,490.10 419.5,506.00 427.5,525.10 435.5,544.40 443.5,562.80 451.5,579.60 459.5,599.50 467.5,618.30 475.5,631.60 483.5,644.80 491.5,649.60 499.5,653.70 507.5,655.00 515.5,655.10 523.5,654.50 531.5,654.20 539.5,650.10 547.5,639.90 555.5,631.60 563.5,622.30 571.5,613.30 579.5,602.60 587.5,595.40 595.5,593.70 603.5,591.90 611.5,591.30 619.5,591.80 627.5,593.90 635.5,592.40 643.5,590.40 651.5,590.60 659.5,594.80 667.5,598.10 675.5,597.80 683.5,599.70 691.5,602.10 699.5,605.30 707.5,608.60 715.5,612.90 723.5,616.40 731.5,621.00 739.5,622.60 747.5,624.80 755.5,617.50 763.5,606.10 771.5,593.30 779.5,584.50 787.5,576.20 795.5,567.10 803.5,562.00 811.5,555.20 819.5,550.20 827.5,543.60 835.5,542.50 843.5,543.40 851.5,542.20 859.5,537.80 867.5,536.30 875.5,533.30 883.5,526.80 891.5,521.10 899.5,514.20 907.5,507.50 915.5,507.20 923.5,508.60 931.5,508.90 939.5,511.10 947.5,514.50 955.5,515.40 963.5,516.80 971.5,515.90 979.5,514.70 987.5,515.40 995.5,515.70 1003.5,517.70 1011.5,517.30 1019.5,511.10 1027.5,504.30 1035.5,500.20 1043.5,496.80 1051.5,493.10 1059.5,493.50 1067.5,492.90 1075.5,489.20 1083.5,481.50 1091.5,477.20 1099.5,475.70 1107.5,468.70 1115.5,463.10 1123.5,458.20 1131.5,457.80 1139.5,454.80 1147.5,449.40 1155.5,445.70 1163.5,441.30 1171.5,438.20 1179.5,435.00 1187.5,433.10 1195.5,430.20 1203.5,427.20 1211.5,419.30 1219.5,411.10 1227.5,405.00 1235.5,398.50 1243.5,391.50 1251.5,382.40 1259.5,373.40 1267.5,366.40 1275.5,359.30 1283.5,353.70 1291.5,347.40 1299.5,337.00 1307.5,324.00 1315.5,313.20 1323.5,301.90 1331.5,292.60 1339.5,282.30 1347.5,269.00 1355.5,252.50 1363.5,238.90 1371.5,229.20 1379.5,222.20 1387.5,217.50 1395.5,208.60 1403.5,201.10 1411.5,193.60 1419.5,184.50 1427.5,177.20 1435.5,173.10 1443.5,163.50 1451.5,152.10 1459.5,141.80 1467.5,132.40 1475.5,125.50 1483.5,119.10 1491.5,113.10 1499.5,111.90 1507.5,113.40 1515.5,113.60 1523.5,121.60 1531.5,131.40 1539.5,137.30 1547.5,138.60 1555.5,139.80 1563.5,140.90 1571.5,138.10 1579.5,131.20 1587.5,121.90 1595.5,114.50 1603.5,106.80 1611.5,100.10 1619.5,100.00 1627.5,103.30 1635.5,105.90 1643.5,111.50 1651.5,119.60" fill="none" stroke="#FFD700" stroke-width="1" shape-rendering="crispEdges"/>
<line x1="1548.5" y1="44.5" x2="1687.5" y2="44.5" stroke="#ED1C24" stroke-width="5" stroke-linecap="round"/>
<line x1="1468.5" y1="208.5" x2="1605" y2="208.5" stroke="#4040C8" stroke-width="5" stroke-linecap="round"/>
<g clip-path="url(#cd)" fill="#1E90FF" shape-rendering="crispEdges">
<rect x="2" y="834" width="3" height="8"/>
<rect x="10" y="834" width="3" height="6"/>
<rect x="18" y="834" width="3" height="5"/>
<rect x="26" y="834" width="3" height="3"/>
<rect x="34" y="834" width="3" height="1"/>
<rect x="42" y="830" width="3" height="4"/>
<rect x="50" y="828" width="3" height="6"/>
<rect x="58" y="827" width="3" height="7"/>
<rect x="66" y="826" width="3" height="8"/>
<rect x="74" y="826" width="3" height="8"/>
<rect x="82" y="827" width="3" height="7"/>
<rect x="90" y="827" width="3" height="7"/>
<rect x="98" y="827" width="3" height="7"/>
<rect x="106" y="825" width="3" height="9"/>
<rect x="114" y="822" width="3" height="12"/>
<rect x="122" y="819" width="3" height="15"/>
<rect x="130" y="818" width="3" height="16"/>
<rect x="138" y="818" width="3" height="16"/>
<rect x="146" y="818" width="3" height="16"/>
<rect x="154" y="818" width="3" height="16"/>
<rect x="162" y="817" width="3" height="17"/>
<rect x="170" y="814" width="3" height="20"/>
<rect x="178" y="809" width="3" height="25"/>
<rect x="186" y="805" width="3" height="29"/>
<rect x="194" y="803" width="3" height="31"/>
<rect x="202" y="801" width="3" height="33"/>
<rect x="210" y="799" width="3" height="35"/>
<rect x="218" y="800" width="3" height="34"/>
<rect x="226" y="800" width="3" height="34"/>
<rect x="234" y="799" width="3" height="35"/>
<rect x="242" y="798" width="3" height="36"/>
<rect x="250" y="796" width="3" height="38"/>
<rect x="258" y="796" width="3" height="38"/>
<rect x="266" y="798" width="3" height="36"/>
<rect x="274" y="798" width="3" height="36"/>
<rect x="282" y="800" width="3" height="34"/>
<rect x="290" y="800" width="3" height="34"/>
<rect x="298" y="803" width="3" height="31"/>
<rect x="306" y="807" width="3" height="27"/>
<rect x="314" y="806" width="3" height="28"/>
<rect x="322" y="805" width="3" height="29"/>
<rect x="330" y="803" width="3" height="31"/>
<rect x="338" y="802" width="3" height="32"/>
<rect x="346" y="799" width="3" height="35"/>
<rect x="354" y="797" width="3" height="37"/>
<rect x="362" y="796" width="3" height="38"/>
<rect x="370" y="797" width="3" height="37"/>
<rect x="378" y="798" width="3" height="36"/>
<rect x="386" y="803" width="3" height="31"/>
<rect x="394" y="813" width="3" height="21"/>
<rect x="402" y="819" width="3" height="15"/>
<rect x="410" y="830" width="3" height="4"/>
<rect x="418" y="834" width="3" height="6"/>
<rect x="426" y="834" width="3" height="13"/>
<rect x="434" y="834" width="3" height="18"/>
<rect x="442" y="834" width="3" height="22"/>
<rect x="450" y="834" width="3" height="24"/>
<rect x="458" y="834" width="3" height="29"/>
<rect x="466" y="834" width="3" height="34"/>
<rect x="474" y="834" width="3" height="39"/>
<rect x="482" y="834" width="3" height="42"/>
<rect x="490" y="834" width="3" height="42"/>
<rect x="498" y="834" width="3" height="42"/>
<rect x="506" y="834" width="3" height="39"/>
<rect x="514" y="834" width="3" height="35"/>
<rect x="522" y="834" width="3" height="30"/>
<rect x="530" y="834" width="3" height="27"/>
<rect x="538" y="834" width="3" height="23"/>
<rect x="546" y="834" width="3" height="18"/>
<rect x="554" y="834" width="3" height="16"/>
<rect x="562" y="834" width="3" height="13"/>
<rect x="570" y="834" width="3" height="10"/>
<rect x="578" y="834" width="3" height="5"/>
<rect x="586" y="834" width="3" height="2"/>
<rect x="594" y="834" width="3" height="3"/>
<rect x="602" y="834" width="3" height="2"/>
<rect x="610" y="834" width="3" height="3"/>
<rect x="618" y="834" width="3" height="4"/>
<rect x="626" y="834" width="3" height="4"/>
<rect x="634" y="834" width="3" height="4"/>
<rect x="642" y="834" width="3" height="1"/>
<rect x="650" y="833" width="3" height="1"/>
<rect x="658" y="834" width="3" height="1"/>
<rect x="666" y="834" width="3" height="1"/>
<rect x="674" y="834" width="3" height="2"/>
<rect x="682" y="834" width="3" height="3"/>
<rect x="690" y="834" width="3" height="6"/>
<rect x="698" y="834" width="3" height="9"/>
<rect x="706" y="834" width="3" height="10"/>
<rect x="714" y="834" width="3" height="11"/>
<rect x="722" y="834" width="3" height="9"/>
<rect x="730" y="834" width="3" height="10"/>
<rect x="738" y="834" width="3" height="9"/>
<rect x="746" y="834" width="3" height="9"/>
<rect x="754" y="834" width="3" height="1"/>
<rect x="762" y="825" width="3" height="9"/>
<rect x="770" y="820" width="3" height="14"/>
<rect x="778" y="820" width="3" height="14"/>
<rect x="786" y="819" width="3" height="15"/>
<rect x="794" y="819" width="3" height="15"/>
<rect x="802" y="819" width="3" height="15"/>
<rect x="810" y="819" width="3" height="15"/>
<rect x="818" y="821" width="3" height="13"/>
<rect x="826" y="821" width="3" height="13"/>
<rect x="834" y="819" width="3" height="15"/>
<rect x="842" y="816" width="3" height="18"/>
<rect x="850" y="813" width="3" height="21"/>
<rect x="858" y="812" width="3" height="22"/>
<rect x="866" y="814" width="3" height="20"/>
<rect x="874" y="814" width="3" height="20"/>
<rect x="882" y="812" width="3" height="22"/>
<rect x="890" y="812" width="3" height="22"/>
<rect x="898" y="812" width="3" height="22"/>
<rect x="906" y="811" width="3" height="23"/>
<rect x="914" y="813" width="3" height="21"/>
<rect x="922" y="815" width="3" height="19"/>
<rect x="930" y="815" width="3" height="19"/>
<rect x="938" y="818" width="3" height="16"/>
<rect x="946" y="823" width="3" height="11"/>
<rect x="954" y="825" width="3" height="9"/>
<rect x="962" y="824" width="3" height="10"/>
<rect x="970" y="822" width="3" height="12"/>
<rect x="978" y="821" width="3" height="13"/>
<rect x="986" y="820" width="3" height="14"/>
<rect x="994" y="822" width="3" height="12"/>
<rect x="1002" y="825" width="3" height="9"/>
<rect x="1010" y="824" width="3" height="10"/>
<rect x="1018" y="822" width="3" height="12"/>
<rect x="1026" y="822" width="3" height="12"/>
<rect x="1034" y="822" width="3" height="12"/>
<rect x="1042" y="820" width="3" height="14"/>
<rect x="1050" y="818" width="3" height="16"/>
<rect x="1058" y="819" width="3" height="15"/>
<rect x="1066" y="820" width="3" height="14"/>
<rect x="1074" y="820" width="3" height="14"/>
<rect x="1082" y="819" width="3" height="15"/>
<rect x="1090" y="818" width="3" height="16"/>
<rect x="1098" y="817" width="3" height="17"/>
<rect x="1106" y="815" width="3" height="19"/>
<rect x="1114" y="813" width="3" height="21"/>
<rect x="1122" y="811" width="3" height="23"/>
<rect x="1130" y="813" width="3" height="21"/>
<rect x="1138" y="815" width="3" height="19"/>
<rect x="1146" y="814" width="3" height="20"/>
<rect x="1154" y="815" width="3" height="19"/>
<rect x="1162" y="814" width="3" height="20"/>
<rect x="1170" y="813" width="3" height="21"/>
<rect x="1178" y="814" width="3" height="20"/>
<rect x="1186" y="813" width="3" height="21"/>
<rect x="1194" y="812" width="3" height="22"/>
<rect x="1202" y="810" width="3" height="24"/>
<rect x="1210" y="808" width="3" height="26"/>
<rect x="1218" y="807" width="3" height="27"/>
<rect x="1226" y="806" width="3" height="28"/>
<rect x="1234" y="806" width="3" height="28"/>
<rect x="1242" y="804" width="3" height="30"/>
<rect x="1250" y="801" width="3" height="33"/>
<rect x="1258" y="800" width="3" height="34"/>
<rect x="1266" y="800" width="3" height="34"/>
<rect x="1274" y="799" width="3" height="35"/>
<rect x="1282" y="800" width="3" height="34"/>
<rect x="1290" y="798" width="3" height="36"/>
<rect x="1298" y="795" width="3" height="39"/>
<rect x="1306" y="790" width="3" height="44"/>
<rect x="1314" y="789" width="3" height="45"/>
<rect x="1322" y="786" width="3" height="48"/>
<rect x="1330" y="784" width="3" height="50"/>
<rect x="1338" y="783" width="3" height="51"/>
<rect x="1346" y="781" width="3" height="53"/>
<rect x="1354" y="777" width="3" height="57"/>
<rect x="1362" y="776" width="3" height="58"/>
<rect x="1370" y="778" width="3" height="56"/>
<rect x="1378" y="779" width="3" height="55"/>
<rect x="1386" y="780" width="3" height="54"/>
<rect x="1394" y="780" width="3" height="54"/>
<rect x="1402" y="779" width="3" height="55"/>
<rect x="1410" y="779" width="3" height="55"/>
<rect x="1418" y="778" width="3" height="56"/>
<rect x="1426" y="778" width="3" height="56"/>
<rect x="1434" y="777" width="3" height="57"/>
<rect x="1442" y="775" width="3" height="59"/>
<rect x="1450" y="775" width="3" height="59"/>
<rect x="1458" y="775" width="3" height="59"/>
<rect x="1466" y="776" width="3" height="58"/>
<rect x="1474" y="778" width="3" height="56"/>
<rect x="1482" y="779" width="3" height="55"/>
<rect x="1490" y="781" width="3" height="53"/>
<rect x="1498" y="785" width="3" height="49"/>
<rect x="1506" y="791" width="3" height="43"/>
<rect x="1514" y="794" width="3" height="40"/>
<rect x="1522" y="801" width="3" height="33"/>
<rect x="1530" y="808" width="3" height="26"/>
<rect x="1538" y="811" width="3" height="23"/>
<rect x="1546" y="810" width="3" height="24"/>
<rect x="1554" y="810" width="3" height="24"/>
<rect x="1562" y="809" width="3" height="25"/>
<rect x="1570" y="806" width="3" height="28"/>
<rect x="1578" y="803" width="3" height="31"/>
<rect x="1586" y="801" width="3" height="33"/>
<rect x="1594" y="799" width="3" height="35"/>
<rect x="1602" y="802" width="3" height="32"/>
<rect x="1610" y="807" width="3" height="27"/>
<rect x="1618" y="813" width="3" height="21"/>
<rect x="1626" y="818" width="3" height="16"/>
<rect x="1634" y="822" width="3" height="12"/>
<rect x="1642" y="826" width="3" height="8"/>
<rect x="1650" y="828" width="3" height="6"/>
</g>
<polyline clip-path="url(#cd)" points="3.5,838.80 11.5,840.80 19.5,840.80 27.5,840.80 35.5,840.80 43.5,839.80 51.5,837.10 59.5,835.10 67.5,833.64 75.5,832.03 83.5,830.62 91.5,829.44 99.5,828.45 107.5,827.48 115.5,826.61 123.5,825.63 131.5,824.63 139.5,823.65 147.5,822.69 155.5,821.70 163.5,820.59 171.5,819.12 179.5,817.34 187.5,815.41 195.5,813.63 203.5,811.79 211.5,809.76 219.5,807.74 227.5,805.72 235.5,803.72 243.5,801.88 251.5,800.47 259.5,799.49 267.5,798.92 275.5,798.57 283.5,798.64 291.5,798.65 299.5,799.09 307.5,799.98 315.5,800.90 323.5,801.92 331.5,802.74 339.5,803.25 347.5,803.42 355.5,803.11 363.5,802.67 371.5,801.97 379.5,801.03 387.5,800.71 395.5,801.53 403.5,803.31 411.5,806.42 419.5,810.85 427.5,816.32 435.5,822.48 443.5,828.84 451.5,835.40 459.5,841.90 467.5,847.92 475.5,853.77 483.5,858.67 491.5,862.63 499.5,865.77 507.5,868.02 515.5,869.48 523.5,870.10 531.5,869.92 539.5,868.75 547.5,866.40 555.5,863.61 563.5,860.39 571.5,856.82 579.5,853.08 587.5,849.45 595.5,846.42 603.5,843.65 611.5,841.43 619.5,839.91 627.5,838.53 635.5,837.50 643.5,836.56 651.5,836.01 659.5,835.86 667.5,835.69 675.5,835.64 683.5,835.56 691.5,835.70 699.5,836.20 707.5,836.85 715.5,837.98 723.5,839.03 731.5,840.03 739.5,840.92 747.5,841.70 755.5,841.54 763.5,840.10 771.5,837.71 779.5,835.16 787.5,832.33 795.5,829.69 803.5,827.02 811.5,824.52 819.5,822.20 827.5,820.76 835.5,819.98 843.5,819.50 851.5,818.78 859.5,818.07 867.5,817.56 875.5,817.07 883.5,816.27 891.5,815.29 899.5,814.25 907.5,813.40 915.5,813.07 923.5,813.25 931.5,813.52 939.5,813.98 947.5,814.98 955.5,816.36 963.5,817.65 971.5,818.81 979.5,819.89 987.5,820.73 995.5,821.55 1003.5,822.67 1011.5,823.34 1019.5,823.17 1027.5,822.90 1035.5,822.71 1043.5,822.48 1051.5,822.18 1059.5,822.05 1067.5,821.83 1075.5,821.31 1083.5,820.75 1091.5,820.30 1099.5,819.74 1107.5,818.95 1115.5,818.21 1123.5,817.49 1131.5,816.80 1139.5,816.21 1147.5,815.55 1155.5,815.11 1163.5,814.67 1171.5,814.24 1179.5,814.10 1187.5,814.03 1195.5,814.08 1203.5,813.80 1211.5,813.07 1219.5,812.24 1227.5,811.24 1235.5,810.39 1243.5,809.35 1251.5,807.99 1259.5,806.57 1267.5,805.22 1275.5,804.02 1283.5,803.08 1291.5,802.11 1299.5,800.85 1307.5,799.06 1315.5,797.41 1323.5,795.69 1331.5,793.93 1339.5,792.08 1347.5,790.01 1355.5,787.46 1363.5,785.01 1371.5,783.13 1379.5,781.90 1387.5,780.89 1395.5,780.25 1403.5,779.69 1411.5,779.26 1419.5,778.98 1427.5,779.10 1435.5,779.22 1443.5,778.96 1451.5,778.49 1459.5,777.92 1467.5,777.43 1475.5,777.29 1483.5,777.25 1491.5,777.53 1499.5,778.36 1507.5,779.84 1515.5,781.88 1523.5,784.79 1531.5,788.48 1539.5,792.40 1547.5,795.98 1555.5,799.49 1563.5,802.67 1571.5,805.04 1579.5,806.46 1587.5,807.26 1595.5,807.10 1603.5,806.47 1611.5,806.05 1619.5,806.42 1627.5,807.24 1635.5,808.59 1643.5,810.71 1651.5,813.47" fill="none" stroke="#DC143C" stroke-width="1" shape-rendering="crispEdges"/>
<g fill="#FFFFFF" shape-rendering="crispEdges">
<rect x="2" y="0" width="1" height="767"/>
<rect x="2" y="766" width="1817" height="1"/>
<rect x="2" y="768" width="1817" height="1"/>
<rect x="2" y="768" width="1" height="114"/>
<rect x="2" y="881" width="1817" height="1"/>
<rect x="3" y="882" width="1" height="3"/>
<rect x="67" y="882" width="1" height="3"/>
<rect x="131" y="882" width="1" height="3"/>
<rect x="195" y="882" width="1" height="3"/>
<rect x="259" y="882" width="1" height="3"/>
<rect x="323" y="882" width="1" height="3"/>
<rect x="387" y="882" width="1" height="3"/>
<rect x="451" y="882" width="1" height="3"/>
<rect x="515" y="882" width="1" height="3"/>
<rect x="579" y="882" width="1" height="3"/>
<rect x="643" y="882" width="1" height="3"/>
<rect x="707" y="882" width="1" height="3"/>
<rect x="771" y="882" width="1" height="3"/>
<rect x="835" y="882" width="1" height="3"/>
<rect x="899" y="882" width="1" height="3"/>
<rect x="963" y="882" width="1" height="3"/>
<rect x="1027" y="882" width="1" height="3"/>
<rect x="1091" y="882" width="1" height="3"/>
<rect x="1155" y="882" width="1" height="3"/>
<rect x="1219" y="882" width="1" height="3"/>
<rect x="1283" y="882" width="1" height="3"/>
<rect x="1347" y="882" width="1" height="3"/>
<rect x="1411" y="882" width="1" height="3"/>
<rect x="1475" y="882" width="1" height="3"/>
<rect x="1539" y="882" width="1" height="3"/>
<rect x="1603" y="882" width="1" height="3"/>
</g>
</svg>
<div class="dt" style="left:2px">1 Jul 2020</div><div class="dt" style="left:66px">13 Jul 2020</div><div class="dt" style="left:130px">23 Jul 2020</div><div class="dt" style="left:194px">4 Aug 2020</div><div class="dt" style="left:258px">14 Aug 2020</div><div class="dt" style="left:322px">26 Aug 2020</div><div class="dt" style="left:386px">7 Sep 2020</div><div class="dt" style="left:450px">17 Sep 2020</div><div class="dt" style="left:514px">29 Sep 2020</div><div class="dt" style="left:578px">9 Oct 2020</div><div class="dt" style="left:642px">21 Oct 2020</div><div class="dt" style="left:706px">30 Oct 2020</div><div class="dt" style="left:770px">11 Nov 2020</div><div class="dt" style="left:834px">23 Nov 2020</div><div class="dt" style="left:898px">3 Dec 2020</div><div class="dt" style="left:962px">15 Dec 2020</div><div class="dt" style="left:1026px">28 Dec 2020</div><div class="dt" style="left:1090px">8 Jan 2021</div><div class="dt" style="left:1154px">20 Jan 2021</div><div class="dt" style="left:1218px">1 Feb 2021</div><div class="dt" style="left:1282px">11 Feb 2021</div><div class="dt" style="left:1346px">23 Feb 2021</div><div class="dt" style="left:1410px">5 Mar 2021</div><div class="dt" style="left:1474px">16 Mar 2021</div><div class="dt" style="left:1538px">25 Mar 2021</div><div class="dt" style="left:1602px">6 Apr 2021</div><div class="pl" style="left:445.5px;top:727px">133.01</div><div class="pl" style="left:917.5px;top:609px">136.77</div><div class="pl" style="left:1109.5px;top:490px">140.34</div><div class="pl" style="left:1342px;top:254px">147.38</div><div class="pl" style="left:1461.5px;top:53px">152.53</div><div class="pl" style="left:1574px;top:27px">153.39</div><div class="pb" style="left:1491.5px;top:213px">148.51</div><div class="ml"><span class="mw">MACD</span>(12,26,9) 0.1868 0.6586</div>
</body></html>
